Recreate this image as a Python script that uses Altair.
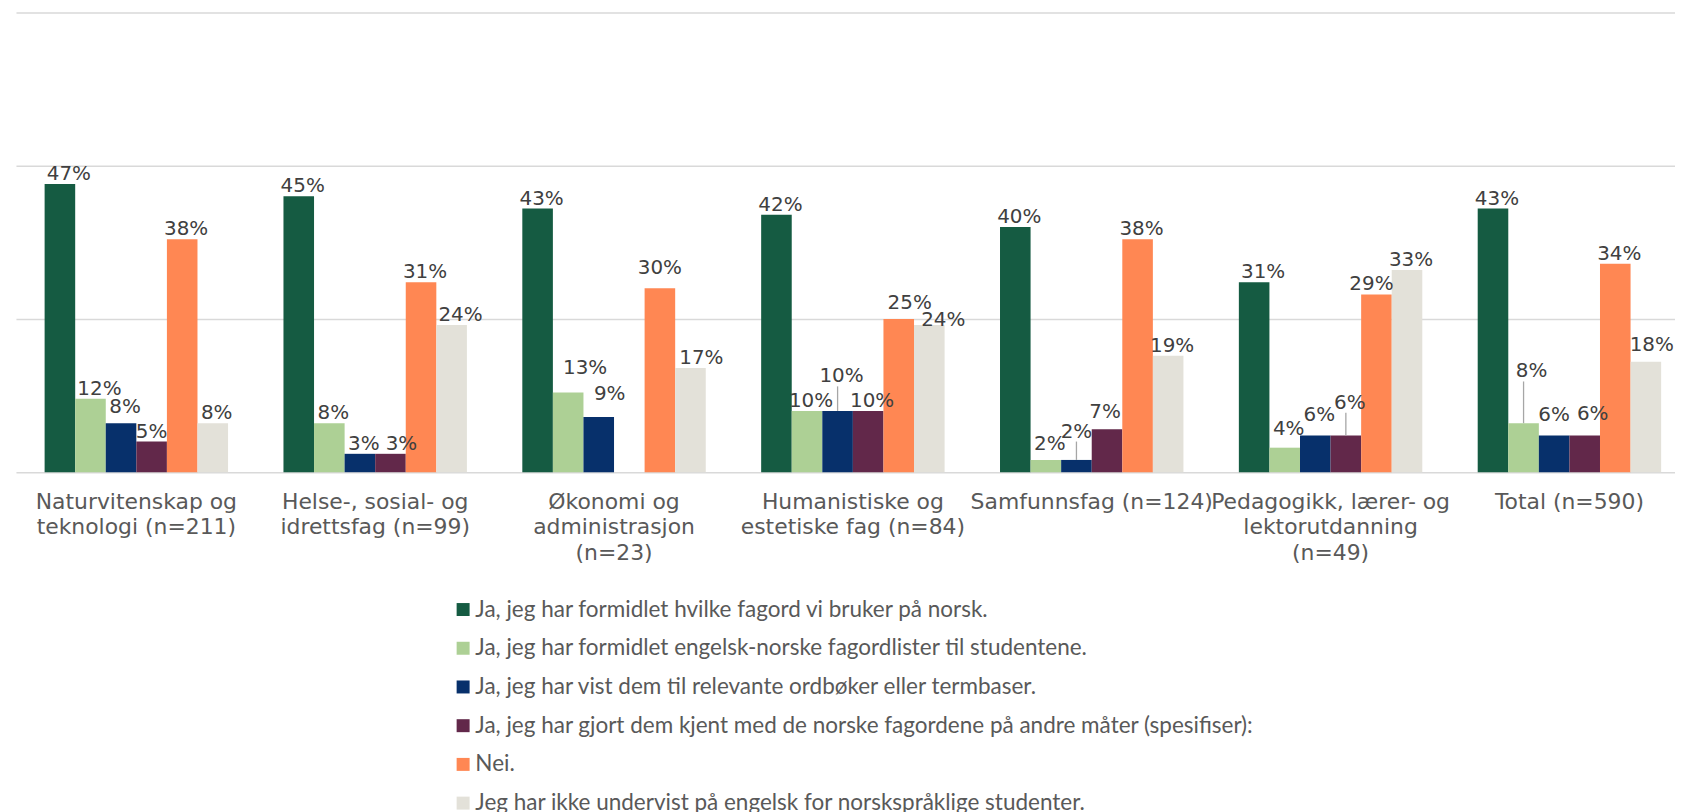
import altair as alt
import pandas as pd

# ---------------- data ----------------
categories = [
    "Naturvitenskap og|teknologi (n=211)",
    "Helse-, sosial- og|idrettsfag (n=99)",
    "Økonomi og|administrasjon|(n=23)",
    "Humanistiske og|estetiske fag (n=84)",
    "Samfunnsfag (n=124)",
    "Pedagogikk, lærer- og|lektorutdanning|(n=49)",
    "Total (n=590)",
]
series = [
    "Ja, jeg har formidlet hvilke fagord vi bruker på norsk.",
    "Ja, jeg har formidlet engelsk-norske fagordlister til studentene.",
    "Ja, jeg har vist dem til relevante ordbøker eller termbaser.",
    "Ja, jeg har gjort dem kjent med de norske fagordene på andre måter (spesifiser):",
    "Nei.",
    "Jeg har ikke undervist på engelsk for norskspråklige studenter.",
]
vals_s1 = [47, 45, 43, 42, 40, 31, 43]
vals_s2 = [12, 8, 13, 10, 2, 4, 8]
vals_s3 = [8, 3, 9, 10, 2, 6, 6]
vals_s4 = [5, 3, None, 10, 7, 6, 6]
vals_s5 = [38, 31, 30, 25, 38, 29, 34]
vals_s6 = [8, 24, 17, 24, 19, 33, 18]
values = [vals_s1, vals_s2, vals_s3, vals_s4, vals_s5, vals_s6]

# ---------------- style ----------------
colors = ["#155B42", "#ADD095", "#07306B", "#62284A", "#FF8753", "#E3E1D9"]
# label lifts (percentage points) and horizontal shifts (px), mimicking the reference label placement
LABEL_NUDGE = {(0, 2): 1.0, (2, 1): 2.4, (2, 2): 2.1, (2, 4): 1.6, (3, 2): 4.0, (3, 4): 1.0,
               (3, 5): -0.8, (4, 1): 0.9, (4, 2): 3.0, (4, 3): 1.2, (5, 1): 1.4, (5, 2): 1.7,
               (5, 3): 3.7, (6, 1): 6.8, (6, 2): 1.7, (6, 3): 1.9, (6, 5): 1.2}
DEFAULT_DX = 4
LABEL_DX = {(0, 0): 9, (0, 1): 9, (0, 3): 0, (1, 3): 11, (1, 5): 9, (2, 1): 17, (2, 2): 11,
            (2, 4): 0, (2, 5): 11, (3, 4): 11, (3, 5): 14, (4, 2): 0, (4, 3): -2, (5, 0): 9,
            (5, 4): -5, (6, 1): 8, (6, 2): 0, (6, 3): 8, (6, 5): 6}
LEADERS = {(3, 2), (4, 2), (5, 3), (6, 1)}

rows = []
for si, (s, vals) in enumerate(zip(series, values)):
    for ci, (c, v) in enumerate(zip(categories, vals)):
        if v is None:
            continue
        rows.append(dict(cat=c, series=s, value=v, label=f"{v}%",
                         label_y=v + LABEL_NUDGE.get((ci, si), 0),
                         dx=LABEL_DX.get((ci, si), DEFAULT_DX),
                         leader=(ci, si) in LEADERS))
df = pd.DataFrame(rows)

x = alt.X("cat:N", sort=categories,
          scale=alt.Scale(domain=categories, paddingInner=0.232, paddingOuter=0.089, align=0.674),
          axis=alt.Axis(title=None, labelExpr="split(datum.label, '|')", labelAngle=0,
                        domain=False, ticks=False, labelFont="DejaVu Sans", labelFontSize=22,
                        labelColor="#595959", labelPadding=19, labelLineHeight=26,
                        labelBaseline="top", labelLimit=0, labelOverlap=False, labelBound=False))
xo = alt.XOffset("series:N", sort=series,
                 scale=alt.Scale(domain=series, paddingInner=0, paddingOuter=0))
yscale = alt.Scale(domain=[0, 75], nice=False)

bars = alt.Chart(df).mark_bar().encode(
    x=x, xOffset=xo,
    y=alt.Y("value:Q", scale=yscale,
            axis=alt.Axis(title=None, labels=False, ticks=False, domain=False,
                          values=[0, 25, 50, 75], gridColor="#D9D9D9", gridWidth=1.5)),
    color=alt.Color("series:N", sort=series,
                    scale=alt.Scale(domain=series, range=colors),
                    legend=alt.Legend(title=None, orient="none", legendX=438, legendY=588.7,
                                      direction="vertical", symbolType="square", symbolSize=170,
                                      symbolStrokeWidth=0, labelFont="Lato", labelFontSize=22.6,
                                      labelColor="#595959", rowPadding=15.9, labelOffset=1,
                                      labelLimit=0)),
)

leaders = alt.Chart(df).transform_filter("datum.leader").mark_rule(
    color="#A6A6A6", strokeWidth=1.3
).encode(x=x, xOffset=xo, y=alt.Y("value:Q", scale=yscale), y2="label_y:Q")

label_layers = []
for dxv in sorted(set(df["dx"])):
    label_layers.append(
        alt.Chart(df).transform_filter(f"datum.dx == {dxv}").mark_text(
            font="DejaVu Sans", fontSize=20, color="#404040", baseline="alphabetic",
            dy=-4, dx=int(dxv)
        ).encode(x=x, xOffset=xo, y=alt.Y("label_y:Q", scale=yscale), text="label:N")
    )

chart = alt.layer(bars, leaders, *label_layers).properties(
    width=1667, height=462,
    autosize=alt.AutoSizeParams(type="none"),
    padding={"left": 8, "top": 2.5, "right": 0, "bottom": 339},
).configure_view(stroke=None)

chart.save("out.html", embed_options={"renderer": "svg", "actions": False})
